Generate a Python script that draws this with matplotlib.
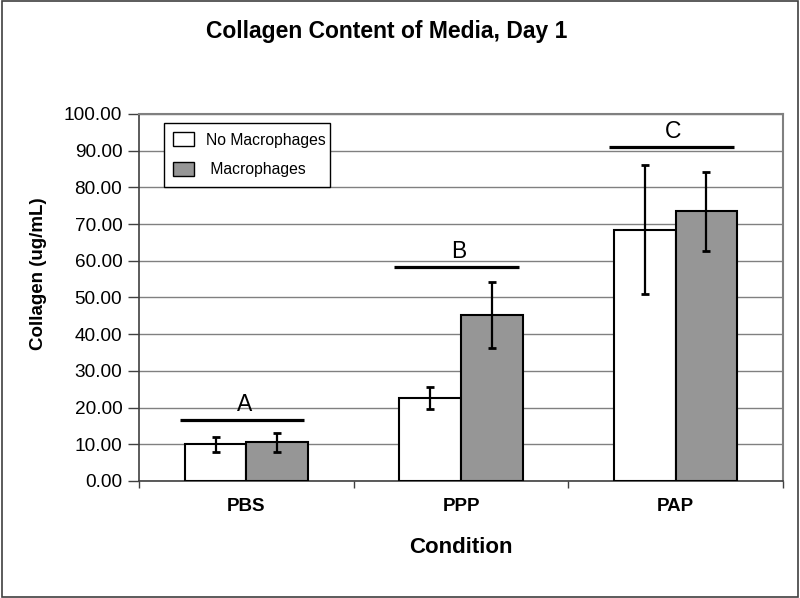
import numpy as np
import matplotlib
matplotlib.use("Agg")
import matplotlib.pyplot as plt
from matplotlib.patches import Rectangle
from matplotlib.ticker import FormatStrFormatter, FixedLocator

plt.rcParams['font.family'] = ['Liberation Sans', 'DejaVu Sans']

# data
conditions = ['PBS', 'PPP', 'PAP']
no_mac = [10.0, 22.5, 68.5]
no_mac_err = [2.0, 3.0, 17.5]
mac = [10.5, 45.1, 73.5]
mac_err = [2.7, 9.0, 10.7]
sig_letters = ['A', 'B', 'C']
sig_line_y = [16.6, 58.4, 91.1]

fig = plt.figure(figsize=(8, 5.98), dpi=100)
ax = fig.add_axes([0.17375, 0.1957, 0.805, 0.6137])

x = np.arange(len(conditions))
w = 0.287
ax.bar(x - w / 2, no_mac, w, color='white', edgecolor='black', linewidth=1.5,
       label='No Macrophages', zorder=3)
ax.bar(x + w / 2, mac, w, color='#969696', edgecolor='black', linewidth=1.5,
       label=' Macrophages', zorder=3)
ax.errorbar(x - w / 2, no_mac, yerr=no_mac_err, fmt='none', ecolor='black',
            elinewidth=1.6, capsize=3, capthick=2, zorder=4)
ax.errorbar(x + w / 2, mac, yerr=mac_err, fmt='none', ecolor='black',
            elinewidth=1.6, capsize=3, capthick=2, zorder=4)

# significance bars + letters
for xi, yl, letter in zip(x, sig_line_y, sig_letters):
    ax.plot([xi - 0.31, xi + 0.27], [yl, yl], color='black', lw=2.3,
            solid_capstyle='butt', zorder=4)
    ax.text(xi - 0.01, yl + 1.1, letter, ha='center', va='bottom', fontsize=16.5)

ax.set_xlim(-0.5, 2.5)
ax.set_ylim(0, 100)
ax.set_yticks(np.arange(0, 101, 10))
ax.yaxis.set_major_formatter(FormatStrFormatter('%.2f'))
ax.tick_params(axis='y', direction='out', length=8, width=1, color='#404040',
               labelsize=13.7, pad=4)
ax.set_xticks(x)
ax.set_xticklabels(conditions, fontsize=13.5, fontweight='bold')
ax.tick_params(axis='x', which='major', length=0, pad=12)
ax.xaxis.set_minor_locator(FixedLocator([-0.5, 0.5, 1.5, 2.5]))
ax.tick_params(axis='x', which='minor', direction='out', length=5, width=1,
               color='#404040')

ax.grid(axis='y', color='#808080', linewidth=1, zorder=0)
ax.set_axisbelow(True)
for s in ['top', 'right']:
    ax.spines[s].set_color('#808080')
    ax.spines[s].set_linewidth(1.5)
for s in ['left', 'bottom']:
    ax.spines[s].set_color('#404040')
    ax.spines[s].set_linewidth(1.2)

ax.set_xlabel('Condition', fontsize=16, fontweight='bold', labelpad=16)
ax.set_ylabel('Collagen (ug/mL)', fontsize=13.5, fontweight='bold')
ax.yaxis.set_label_coords(-0.143, 0.565)
fig.text(0.483, 0.948, 'Collagen Content of Media, Day 1', fontsize=16.5,
         fontweight='bold', ha='center', va='center')

leg = ax.legend(loc='upper left', bbox_to_anchor=(0.0388, 0.8065, 0.258, 0.169),
                mode='expand', fontsize=11.3, frameon=True, fancybox=False,
                framealpha=1, edgecolor='black', borderaxespad=0,
                handlelength=1.3, handleheight=1.0, handletextpad=0.8,
                labelspacing=0.9, borderpad=0.6)
leg.get_frame().set_linewidth(1)
for h in leg.legend_handles:
    h.set_linewidth(1)

# outer chart border
fig.patches.append(Rectangle((0.002, 0.002), 0.996, 0.996, transform=fig.transFigure,
                             fill=False, edgecolor='#404040', linewidth=1.2))

fig.savefig('out.png', dpi=100)
